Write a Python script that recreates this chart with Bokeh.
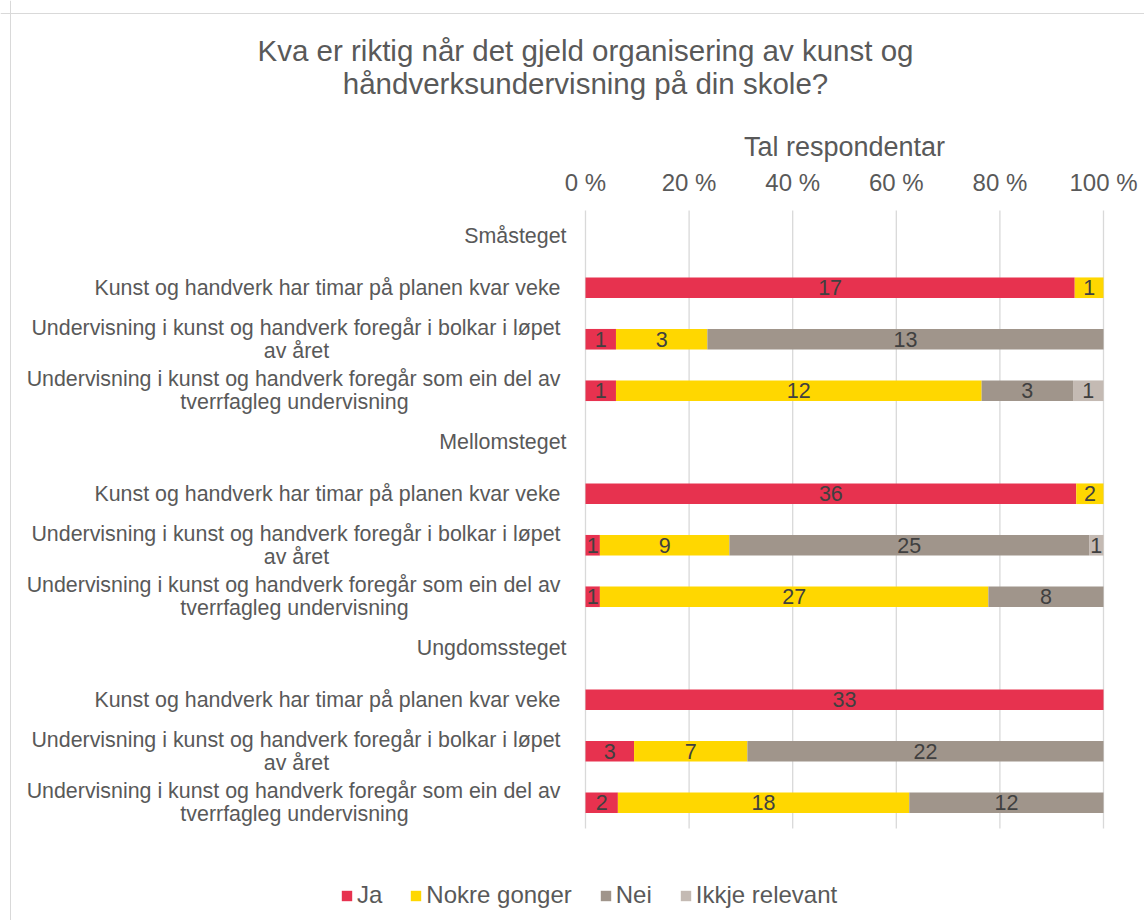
from bokeh.plotting import figure
from bokeh.models import ColumnDataSource, Range1d, Legend, LegendItem, Span
from bokeh.embed import file_html
from bokeh.resources import INLINE
from bokeh.core.properties import value

# ---------------- data ----------------
title_lines = ["Kva er riktig når det gjeld organisering av kunst og",
               "håndverksundervisning på din skole?"]
axis_title = "Tal respondentar"
groups = ["Småsteget", "Mellomsteget", "Ungdomssteget"]
statements = [
    ["Kunst og handverk har timar på planen kvar veke"],
    ["Undervisning i kunst og handverk foregår i bolkar i løpet", "av året"],
    ["Undervisning i kunst og handverk foregår som ein del av", "tverrfagleg undervisning"],
]
series = ["Ja", "Nokre gonger", "Nei", "Ikkje relevant"]
colors = ["#E7324F", "#FFD700", "#A0958B", "#C4BAB3"]
# order: Småsteget (3 statements), Mellomsteget (3), Ungdomssteget (3)
ja     = [17, 1, 1, 36, 1, 1, 33, 3, 2]
nokre  = [1, 3, 12, 2, 9, 27, 0, 7, 18]
nei    = [0, 13, 3, 0, 25, 8, 0, 22, 12]
ikkje  = [0, 0, 1, 0, 1, 0, 0, 0, 0]
tick_values = [0, 20, 40, 60, 80, 100]
tick_labels = ["0 %", "20 %", "40 %", "60 %", "80 %", "100 %"]

FONT = "Liberation Sans"
GREY = "#595959"
DARK = "#404040"

# ---------------- layout helpers (image px -> data) ----------------
OX, OY = 0, 0              # canvas origin in page image
W, H = 1144, 920
FL, FR, FT, FB = 585, 1103, 210, 828   # plot-area edges (image px)
NROWS = 12
pxx = (FR - FL) / 100.0
pxy = (FB - FT) / NROWS

def X(px):
    return (px - FL) / pxx

def Y(py):
    return (py - FT) / pxy

p = figure(width=W, height=H, output_backend="svg", toolbar_location=None,
           x_range=Range1d(X(OX), X(OX + W)), y_range=Range1d(Y(OY + H), Y(OY)),
           x_axis_location=None, y_axis_location=None, min_border=0)
p.outline_line_color = None
p.background_fill_color = "white"
p.border_fill_color = "white"
p.xgrid.visible = False
p.ygrid.visible = False

# chart border (top / left)
p.add_layout(Span(location=X(10), dimension="height", line_color="#d9d9d9", line_width=1))
p.add_layout(Span(location=Y(13), dimension="width", line_color="#d9d9d9", line_width=1))

# vertical gridlines over the plot area
p.segment(x0=tick_values, y0=[0] * len(tick_values), x1=tick_values,
          y1=[NROWS] * len(tick_values), line_color="#d9d9d9", line_width=1.3)

# tick labels and axis title (top axis)
p.text(x=tick_values, y=[Y(182)] * len(tick_values), text=tick_labels,
       text_align="center", text_baseline="middle", text_font=value(FONT),
       text_font_size="24px", text_color=GREY)
p.text(x=[50], y=[Y(146)], text=[axis_title], text_align="center", text_baseline="middle",
       text_font=value(FONT), text_font_size="27px", text_color=GREY)

# ---------------- bars ----------------
values = [ja, nokre, nei, ikkje]
rows = []
for g in range(3):
    for s in range(3):
        rows.append(4 * g + s + 1 + 0.5)
totals = [sum(v[i] for v in values) for i in range(9)]

renderers = []
lab_x, lab_y, lab_t = [], [], []
cum = [0.0] * 9
for k, name in enumerate(series):
    lefts, rights, ys = [], [], []
    for i in range(9):
        pct = values[k][i] / totals[i] * 100.0
        lefts.append(cum[i])
        rights.append(cum[i] + pct)
        ys.append(rows[i])
        if values[k][i] > 0:
            lab_x.append(cum[i] + pct / 2)
            lab_y.append(rows[i])
            lab_t.append(str(values[k][i]))
        cum[i] += pct
    src = ColumnDataSource(dict(y=ys, left=lefts, right=rights))
    r = p.hbar(y="y", left="left", right="right", height=0.4, source=src,
               fill_color=colors[k], line_color=None)
    renderers.append(r)

p.text(x=lab_x, y=lab_y, text=lab_t, text_align="center", text_baseline="middle",
       text_font=value(FONT), text_font_size="21.5px", text_color=DARK)

# ---------------- category labels ----------------
RIGHT_ITEM = X(560)
RIGHT_HEAD = X(566)
centers2 = {1: X(296), 2: X(294)}
dy = 11.5 / pxy
r_x, r_y, r_t = [], [], []      # right-aligned lines
c_x, c_y, c_t = [], [], []      # centred second lines
for g in range(3):
    r_x.append(RIGHT_HEAD); r_y.append(4 * g + 0.5); r_t.append(groups[g])
    for s in range(3):
        yc = 4 * g + s + 1 + 0.5
        lines = statements[s]
        if len(lines) == 1:
            r_x.append(RIGHT_ITEM); r_y.append(yc); r_t.append(lines[0])
        else:
            r_x.append(RIGHT_ITEM); r_y.append(yc - dy); r_t.append(lines[0])
            c_x.append(centers2[s]); c_y.append(yc + dy); c_t.append(lines[1])
p.text(x=r_x, y=r_y, text=r_t, text_align="right", text_baseline="middle",
       text_font=value(FONT), text_font_size="21.4px", text_color=GREY)
p.text(x=c_x, y=c_y, text=c_t, text_align="center", text_baseline="middle",
       text_font=value(FONT), text_font_size="21.4px", text_color=GREY)

# ---------------- title ----------------
p.text(x=[X(585)] * 2, y=[Y(50), Y(83)], text=title_lines, text_align="center",
       text_baseline="middle", text_font=value(FONT), text_font_size="29.5px",
       text_color=GREY)

# ---------------- legend ----------------
legend = Legend(items=[LegendItem(label=n, renderers=[r]) for n, r in zip(series, renderers)],
                orientation="horizontal", location=(340 - OX, (OY + H) - 909),
                padding=0, margin=0, spacing=27, glyph_width=13, glyph_height=13,
                label_standoff=4, label_text_font=FONT, label_text_font_size="24px",
                label_text_color=GREY, label_height=24, border_line_color=None,
                background_fill_alpha=0)
p.add_layout(legend)

open("out.html", "w").write(file_html(p, INLINE))
